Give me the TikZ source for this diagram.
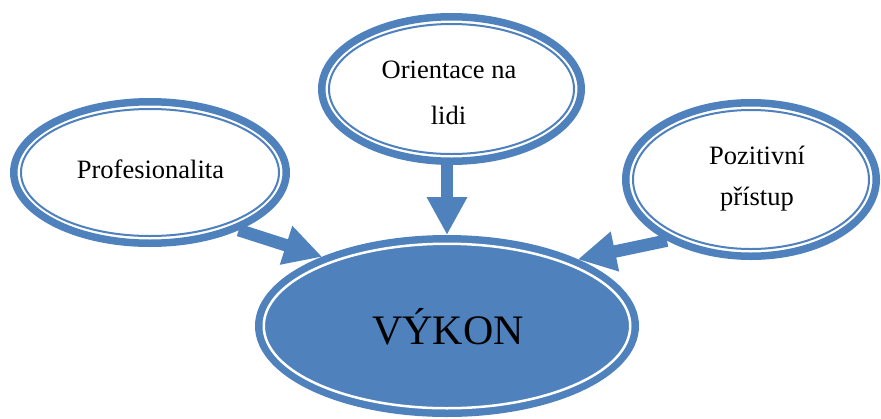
\documentclass[tikz,border=0pt]{standalone}
\usepackage{fontspec}
\setmainfont{Liberation Serif}
\usetikzlibrary{shapes.geometric,arrows.meta}
\definecolor{ringblue}{RGB}{79,129,189}
\tikzset{
  ring/.style={ellipse, draw=ringblue, line width=7.5pt, inner sep=0pt, fill=white},
  thinring/.style={draw=ringblue, line width=2pt},
  gapring/.style={draw=white, line width=2.5pt},
  label/.style={anchor=base, inner sep=0pt, font=\fontsize{26.5}{32}\selectfont},
  bigarrow/.style={draw=ringblue, line width=12.5pt,
    -{Triangle[width=38pt,length=38pt]}}
}
\begin{document}
\begin{tikzpicture}[x=1pt,y=-1pt]
\useasboundingbox (0,0) rectangle (881,418);

% outer thick rings (node border = outer edge of the ring)
\node[ring, minimum width=272.5pt, minimum height=141.5pt] (prof) at (150,172.5) {};
\node[ring, minimum width=259.5pt, minimum height=144.5pt] (ori) at (451.5,89) {};
\node[ring, minimum width=250.5pt, minimum height=153.5pt] (poz) at (751,179.5) {};
\node[ring, fill=ringblue, minimum width=376.5pt, minimum height=174.5pt] (vykon) at (447,326) {};

% thin inner rings
\draw[thinring] (prof.center) ellipse [x radius=129pt, y radius=63.5pt];
\draw[thinring] (ori.center) ellipse [x radius=122.5pt, y radius=65pt];
\draw[thinring] (poz.center) ellipse [x radius=118pt, y radius=69.5pt];
\draw[gapring] (vykon.center) ellipse [x radius=183.25pt, y radius=82.25pt];

% labels
\node[label] (tprof) at (150.5,178) {Profesionalita};
\node[label] (tori1) at (449,78.5) {Orientace na};
\node[label] (tori2) at (448.5,124) {lidi};
\node[label] (tpoz1) at (757,164) {Pozitivní};
\node[label] (tpoz2) at (757,205) {přístup};
\node[anchor=base, inner sep=0pt, font=\fontsize{42}{48}\selectfont] (tvykon) at (448,344) {VÝKON};

% block arrows into the central ellipse
\draw[bigarrow] (prof.-33) -- (vykon.151.8);
\draw[bigarrow] (vykon.north |- ori.south) -- (vykon.north);
\draw[bigarrow] (poz.216.6) -- (vykon.27.4);
\end{tikzpicture}
\end{document}
